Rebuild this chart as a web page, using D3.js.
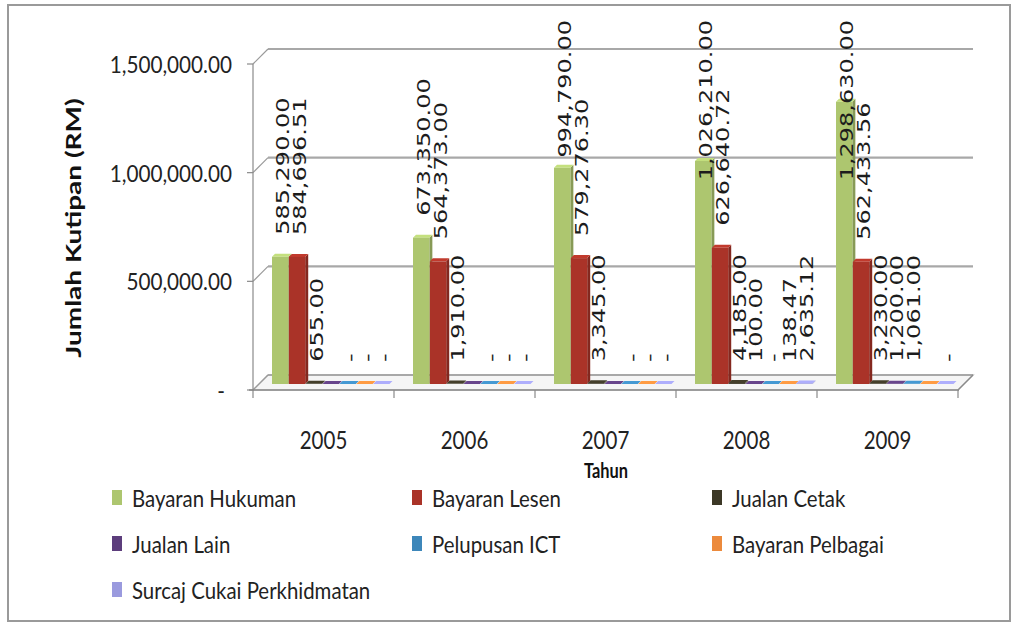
<!DOCTYPE html>
<html><head><meta charset="utf-8">
<script src="https://cdn.jsdelivr.net/npm/d3@7"></script>
<style>body{margin:0;background:#fff}svg{display:block}</style>
</head><body><svg id="c" width="1017" height="628"></svg>
<script>
const years = ["2005","2006","2007","2008","2009"];
const seriesNames = ["Bayaran Hukuman","Bayaran Lesen","Jualan Cetak","Jualan Lain","Pelupusan ICT","Bayaran Pelbagai","Surcaj Cukai Perkhidmatan"];
const seriesColors = ["#adc66f","#aa3328","#3c3826","#5c3d7c","#3d87ba","#ec8a3c","#9a9ade"];
const bayaranHukuman = [585290.00, 673350.00, 994790.00, 1026210.00, 1298630.00];
const bayaranLesen = [584696.51, 564373.00, 579276.30, 626640.72, 562433.56];
const jualanCetak = [655.00, 1910.00, 3345.00, 4185.00, 3230.00];
const jualanLain = [null, null, null, 100.00, 1200.00];
const pelupusanICT = [0, 0, 0, 0, 1061.00];
const bayaranPelbagai = [0, 0, 0, 138.47, null];
const surcajCukai = [0, 0, 0, 2635.12, 0];
const yTicks = [0, 500000, 1000000, 1500000];
const yTitle = "Jumlah Kutipan  (RM)";
const xTitle = "Tahun";

const seriesValues = [bayaranHukuman, bayaranLesen, jualanCetak, jualanLain, pelupusanICT, bayaranPelbagai, surcajCukai];

const svg = d3.select("#c");
const fmt = d3.format(",.2f");
const lab = v => v === 0 ? "-" : fmt(v);

// border
svg.append("rect").attr("x",8).attr("y",5).attr("width",1002).attr("height",616)
  .attr("fill","#fff").attr("stroke","#9a9a9a").attr("stroke-width",2);

const y = d3.scaleLinear().domain([0,1500000]).range([390,64]);
const x = d3.scaleBand().domain(years).range([253,958]);
const inner = d3.scaleBand().domain(seriesNames).range([13,131]);
const D = {dx:15, dy:-15};     // wall depth
const B = {dx:6, dy:-6};       // bar position in depth
const BD = {dx:3, dy:-3};      // bar own depth
const x0 = x.range()[0], x1 = x.range()[1];

const g = svg.append("g");
// floor
const fy = y(0);
g.append("path").attr("d",`M${x0},${fy}L${x1},${fy}L${x1+D.dx},${fy+D.dy}L${x0+D.dx},${fy+D.dy}Z`)
  .attr("fill","#f5f5f5").attr("stroke","#c4c4c4").attr("stroke-width",1.5);
// back wall gridlines + side wall lines
yTicks.forEach(t => {
  const yy = y(t);
  g.append("line").attr("x1",x0+D.dx).attr("x2",x1+D.dx).attr("y1",yy+D.dy).attr("y2",yy+D.dy)
    .attr("stroke","#a8a8a8").attr("stroke-width",2.2);
  g.append("line").attr("x1",x0).attr("x2",x0+D.dx).attr("y1",yy).attr("y2",yy+D.dy)
    .attr("stroke","#9a9a9a").attr("stroke-width",1.2);
  g.append("line").attr("x1",x0-6).attr("x2",x0).attr("y1",yy).attr("y2",yy)
    .attr("stroke","#8a8a8a").attr("stroke-width",1.2);
});
// right floor edge
g.append("line").attr("x1",x1).attr("y1",fy).attr("x2",x1+D.dx).attr("y2",fy+D.dy).attr("stroke","#8a8a8a").attr("stroke-width",1.2);
// y axis
g.append("line").attr("x1",x0).attr("x2",x0).attr("y1",y(1500000)).attr("y2",fy+1).attr("stroke","#8a8a8a").attr("stroke-width",1.2);
// x axis front line + ticks
g.append("line").attr("x1",x0-4).attr("x2",x1+1).attr("y1",fy).attr("y2",fy).attr("stroke","#8a8a8a").attr("stroke-width",1.4);
const bounds = years.map(d => x(d)).concat([x1]);
bounds.forEach(bx => g.append("line").attr("x1",bx).attr("x2",bx).attr("y1",fy).attr("y2",fy+8).attr("stroke","#8a8a8a").attr("stroke-width",1.2));

// bars
const barsG = svg.append("g");
const labels = [];
years.forEach((yr, j) => {
  seriesNames.forEach((s, i) => {
    const v = seriesValues[i][j];
    const val = v == null ? 0 : v;
    const c = d3.color(seriesColors[i]);
    const bx = x(yr) + inner(s) + B.dx;
    const bw = inner.bandwidth() - 0.5;
    const base = y(0) + B.dy;
    const top = y(val) + B.dy;
    barsG.append("path").attr("d",`M${bx+bw},${base}L${bx+bw},${top}L${bx+bw+BD.dx},${top+BD.dy}L${bx+bw+BD.dx},${base+BD.dy}Z`)
      .attr("fill", c.darker(0.7));
    barsG.append("path").attr("d",`M${bx},${top}L${bx+bw},${top}L${bx+bw+BD.dx},${top+BD.dy}L${bx+BD.dx},${top+BD.dy}Z`)
      .attr("fill", c.brighter(0.35));
    barsG.append("rect").attr("x",bx).attr("y",top).attr("width",bw).attr("height",Math.max(0,base-top))
      .attr("fill", c);
    if (v != null) labels.push({x: bx + bw/2 + 3, top, text: lab(v)});
  });
});

// data labels (rotated)
const lg = svg.append("g");
labels.forEach(d => {
  const t = lg.append("text").text(d.text)
    .attr("font-family","DejaVu Sans").attr("font-size",24).attr("fill","#1c1c1c")
    .attr("dominant-baseline","central");
  const len = t.node().getComputedTextLength();
  let start = d.top - 22;
  if (start - len < 20) start = 20 + len;
  t.attr("transform",`translate(${d.x},${start}) rotate(-90) scale(1,0.7)`);
});

// y tick labels
const txtFont = "Lato";
yTicks.forEach(t => {
  svg.append("text").text(t === 0 ? "-" : fmt(t))
    .attr("font-family",txtFont).attr("font-size",23).attr("fill","#222")
    .attr("text-anchor","end").attr("dominant-baseline","central")
    .attr("transform",`translate(${t===0?225:232},${y(t)}) scale(0.9,1)`);
});
// year labels
years.forEach(yr => {
  svg.append("text").text(yr)
    .attr("font-family",txtFont).attr("font-size",25).attr("fill","#222")
    .attr("text-anchor","middle")
    .attr("transform",`translate(${x(yr)+x.bandwidth()/2},449) scale(0.82,1)`);
});
// axis titles
svg.append("text").text(xTitle).attr("font-family",txtFont).attr("font-weight","bold")
  .attr("font-size",20).attr("fill","#111").attr("text-anchor","middle")
  .attr("transform",`translate(606,478) scale(0.82,1)`);
svg.append("text").text(yTitle).attr("font-family",txtFont).attr("font-weight","bold")
  .attr("font-size",28).attr("fill","#111").attr("text-anchor","middle").attr("dominant-baseline","central")
  .attr("transform",`translate(73,228) rotate(-90) scale(1,0.74)`);

// legend
const legCols = [112, 412, 712];
const legRows = [498, 544, 590];
seriesNames.forEach((s, i) => {
  const cx = legCols[i % 3], cy = legRows[Math.floor(i / 3)];
  svg.append("rect").attr("x",cx).attr("y",cy-8).attr("width",10).attr("height",15).attr("fill",seriesColors[i]);
  svg.append("text").text(s).attr("font-family",txtFont).attr("font-size",24).attr("fill","#222")
    .attr("dominant-baseline","central")
    .attr("transform",`translate(${cx+20},${cy}) scale(0.85,1)`);
});
</script></body></html>
